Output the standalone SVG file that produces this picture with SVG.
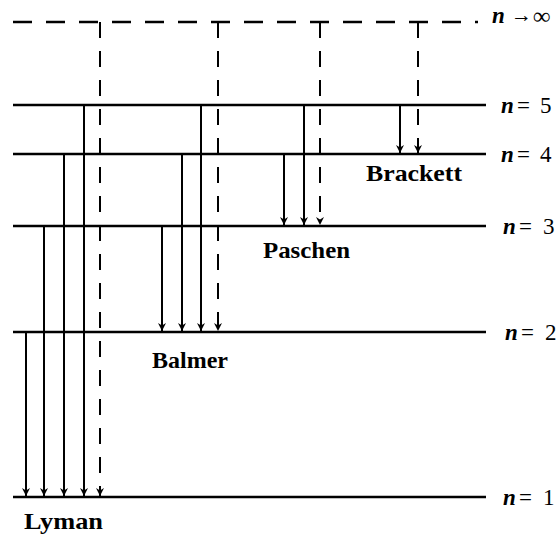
<svg xmlns="http://www.w3.org/2000/svg" width="556" height="536" viewBox="0 0 556 536">
  <style>
    .level { stroke: #000; stroke-width: 2.6; fill: none; }
    .limit { stroke: #000; stroke-width: 2.6; fill: none; stroke-dasharray: 19 14; }
    .tr { stroke: #000; stroke-width: 2; fill: none; marker-end: url(#head); }
    .trd { stroke: #000; stroke-width: 2; fill: none; stroke-dasharray: 16 13; marker-end: url(#head); }
    .series { font-family: "Liberation Serif", "Times New Roman", serif; font-size: 24px; font-weight: bold; fill: #000; }
    .lab { font-family: "Liberation Serif", "Times New Roman", serif; font-size: 23px; fill: #000; }
    .lab .n { font-style: italic; font-weight: bold; }
    .lab .arr { font-size: 21px; font-weight: bold; }
    .lab .inf { font-size: 24px; font-weight: bold; }
  </style>
  <defs>
    <marker id="head" viewBox="0 0 10 10" refX="10" refY="5" markerWidth="8" markerHeight="8" markerUnits="userSpaceOnUse" orient="auto">
      <path d="M0,0 L10,5 L0,10 L3,5 Z" fill="#000"/>
    </marker>
  </defs>

  <!-- energy levels -->
  <g id="levels">
    <g id="level-inf"><path class="limit" d="M13,22 H478"/></g>
    <g id="level-5"><path class="level" d="M13,105 H486"/></g>
    <g id="level-4"><path class="level" d="M13,154 H486"/></g>
    <g id="level-3"><path class="level" d="M13,226 H486"/></g>
    <g id="level-2"><path class="level" d="M13,332 H486"/></g>
    <g id="level-1"><path class="level" d="M13,497 H486"/></g>
  </g>

  <!-- level labels -->
  <g id="labels">
    <text class="lab" y="23"><tspan class="n" x="492">n</tspan><tspan class="arr" x="511" y="22">→</tspan><tspan class="inf" x="533" y="24">∞</tspan></text>
    <text class="lab" y="113"><tspan class="n" x="501">n</tspan><tspan x="517">=</tspan><tspan x="540">5</tspan></text>
    <text class="lab" y="162"><tspan class="n" x="501">n</tspan><tspan x="517">=</tspan><tspan x="540">4</tspan></text>
    <text class="lab" y="234"><tspan class="n" x="503">n</tspan><tspan x="519">=</tspan><tspan x="543">3</tspan></text>
    <text class="lab" y="340"><tspan class="n" x="505">n</tspan><tspan x="521">=</tspan><tspan x="545">2</tspan></text>
    <text class="lab" y="505"><tspan class="n" x="503">n</tspan><tspan x="519">=</tspan><tspan x="543">1</tspan></text>
  </g>

  <!-- transitions -->
  <g id="connectors">
    <g id="lyman">
      <path class="tr" d="M26,332 V496"/>
      <path class="tr" d="M44,226 V496"/>
      <path class="tr" d="M64,154 V496"/>
      <path class="tr" d="M84,105 V496"/>
      <path class="trd" d="M100,22 V496"/>
    </g>
    <g id="balmer">
      <path class="tr" d="M162,226 V331"/>
      <path class="tr" d="M182,154 V331"/>
      <path class="tr" d="M201,105 V331"/>
      <path class="trd" d="M218,22 V331"/>
    </g>
    <g id="paschen">
      <path class="tr" d="M284,154 V225"/>
      <path class="tr" d="M304,105 V225"/>
      <path class="trd" d="M320,22 V225"/>
    </g>
    <g id="brackett">
      <path class="tr" d="M400,105 V153"/>
      <path class="trd" d="M418,22 V153"/>
    </g>
  </g>

  <!-- series names -->
  <g id="series-names">
    <text class="series" x="24" y="529" textLength="79" lengthAdjust="spacingAndGlyphs">Lyman</text>
    <text class="series" x="152" y="368" textLength="76" lengthAdjust="spacingAndGlyphs">Balmer</text>
    <text class="series" x="263" y="258" textLength="87" lengthAdjust="spacingAndGlyphs">Paschen</text>
    <text class="series" x="366" y="181" textLength="96" lengthAdjust="spacingAndGlyphs">Brackett</text>
  </g>
</svg>
